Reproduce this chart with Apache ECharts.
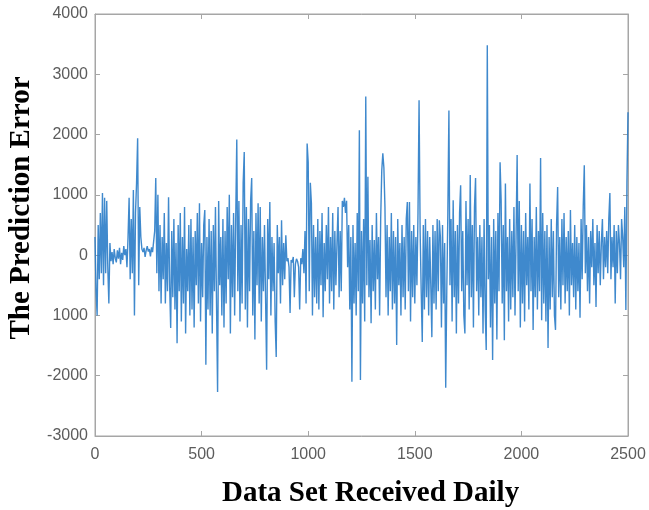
<!DOCTYPE html>
<html>
<head>
<meta charset="utf-8">
<script src="https://cdn.jsdelivr.net/npm/echarts@6/dist/echarts.min.js"></script>
<style>html,body{margin:0;padding:0;background:#fff}#c{width:649px;height:510px}</style>
</head>
<body>
<div id="c"></div>
<script>
// X positions: one sample every 5 days, 0..2500
const dayStep = 5;
// Prediction error values (one row = 50 days)
const errors = [
  300, -600, -1000, 500, -400, 700, -300, 1030, -500, 950,
  -300, 900, -200, -800, 200, -100, 50, -150, 100, -50,
  -120, 80, -60, 120, -150, 40, -80, 150, 0, 100,
  -200, 300, 950, -400, 600, -300, 1080, -1000, 700, 1200,
  1940, -500, 800, 300, 100, 50, 120, -30, 80, 150,
  60, 100, -20, 130, 50, 80, 400, 1280, -300, 1000,
  -600, 500, -800, 300, -400, 700, -800, 200, -600, 960,
  -500, -1210, 400, -700, 600, -900, 200, -1460, 500, -600,
  700, -1100, 300, -800, 800, -1300, 100, -600, 500, -1000,
  600, -900, 300, -1200, 400, -500, 700, -800, 860, -1100,
  200, -700, 500, 750, -1820, 300, -900, 600, -1000, 400,
  -1300, 500, -600, 800, -800, -2270, 900, -500, 300, -1000,
  600, -1200, 400, -800, 800, -400, 1000, -1300, 500, -700,
  700, -1000, 600, 1920, -600, 900, -1100, 500, -800, 1200,
  1710, -900, 800, -1200, 600, -600, 900, 1280, -1000, 400,
  -1400, 700, -500, 860, -800, 800, -1100, 300, -600, 500,
  -700, -1900, 600, -400, 880, -1000, 300, -600, 200, -1100,
  -1690, 500, -300, 300, -800, 580, -500, 200, -400, 330,
  -100, -50, -200, -960, -80, -120, -30, -700, -150, -60,
  -100, -200, -900, -50, -150, 100, -300, 400, -800, 1850,
  1540, -600, 1200, 860, -1000, 500, -700, 300, -800, 600,
  -900, 400, -500, 700, -1030, 200, -600, 500, -400, 800,
  -800, 300, -600, 700, -900, 400, -500, 200, 800, -700,
  400, -600, 900, 800, 950, 700, 900, -200, 500, -900,
  300, -2100, 500, -800, 200, -1000, 700, -600, 2070, -2070,
  400, -800, 600, -1100, 2630, -500, 1300, -700, 250, -1130,
  500, -600, 250, -900, 700, -400, 300, -1000, 600, 1400,
  1690, 1450, 800, -700, 500, -1000, 300, -600, 700, -900,
  400, -800, 300, -1490, 600, -500, 200, -1000, 500, -700,
  300, -900, 600, 880, -600, 880, -1100, 400, -700, 500,
  -800, 300, -500, 700, 2570, 400, -600, -1440, 500, -900,
  600, -700, 400, -1000, 300, -500, -1360, 500, -800, 400,
  -900, 600, -600, 580, 300, -1200, 500, -800, 200, -2200,
  -600, 700, 2400, -500, 600, -1100, 910, -700, 400, -1300,
  500, -800, 700, 1160, -600, 400, -1000, -1300, 900, -500,
  600, -900, 1330, -700, 500, -1200, 800, 1280, -600, 300,
  -1000, 500, -700, 300, -1300, 600, -900, -1575, 3480, -400,
  500, -1200, 300, -1740, 600, -800, 400, -1400, 700, -600,
  1540, 900, -800, 500, -1410, 1190, -600, 300, -1100, 600,
  -900, 400, -700, 800, -1000, 300, 1660, -600, 900, -1200,
  500, -800, 400, -1100, 700, -500, 300, -900, 1190, -600,
  600, -1240, 300, -700, 800, -900, 400, -600, 1610, -1080,
  700, -800, 400, -1100, 500, -1540, 300, -900, 600, -700,
  400, -1000, -1240, 500, 1130, -700, 300, -900, 600, -500,
  700, -800, 300, -600, 400, -1000, 750, -500, 200, -700,
  500, -900, 300, -600, 200, -1040, 600, -400, 800, 1490,
  -300, 500, -600, 300, -800, 400, -200, 600, -500, 200,
  -860, 500, -300, 400, -500, 200, 600, -400, 300, -200,
  400, -300, 600, 1030, -400, 300, -200, 500, -800, 400,
  -300, 500, 200, -400, 600, 300, -200, 800, -910, 1200,
  2370
];
const xTicks = [0, 500, 1000, 1500, 2000, 2500];
const yTicks = [4000, 3000, 2000, 1000, 0, -1000, -2000, -3000];
const yTickLabels = {"4000":"4000","3000":"3000","2000":"2000","1000":"1000","0":"0","-1000":"1000","-2000":"-2000","-3000":"-3000"};
const xTitle = "Data Set Received Daily";
const yTitle = "The Prediction Error";

const seriesData = errors.map((v, i) => [i * dayStep, v]);

const chart = echarts.init(document.getElementById('c'), null, {renderer: 'canvas'});
const frame = '#a6a6a6';
const labelColor = '#5c5c5c';
const axisCommon = {
  axisLine: {show: true, onZero: false, lineStyle: {color: frame, width: 1}},
  axisTick: {show: true, inside: true, length: 5, lineStyle: {color: frame}},
  splitLine: {show: false}
};
chart.setOption({
  animation: false,
  backgroundColor: '#ffffff',
  grid: {left: 95, right: 21, top: 14, bottom: 74, show: true, borderColor: frame, borderWidth: 1, containLabel: false},
  xAxis: [
    Object.assign({
      type: 'value', min: xTicks[0], max: xTicks[xTicks.length - 1], interval: 500, position: 'bottom',
      axisLabel: {color: labelColor, fontFamily: 'Liberation Sans, Arial, sans-serif', fontSize: 16, margin: 11,
        formatter: v => xTicks.includes(v) ? String(v) : ''}
    }, axisCommon),
    Object.assign({
      type: 'value', min: xTicks[0], max: xTicks[xTicks.length - 1], interval: 500, position: 'top',
      axisLabel: {show: false}
    }, axisCommon)
  ],
  yAxis: [
    Object.assign({
      type: 'value', min: -3000, max: 4000, interval: 1000, position: 'left',
      axisLabel: {color: labelColor, fontFamily: 'Liberation Sans, Arial, sans-serif', fontSize: 16, margin: 7,
        formatter: v => yTickLabels[String(v)] !== undefined ? yTickLabels[String(v)] : ''}
    }, axisCommon),
    Object.assign({
      type: 'value', min: -3000, max: 4000, interval: 1000, position: 'right',
      axisLabel: {show: false}
    }, axisCommon)
  ],
  series: [{
    type: 'line',
    xAxisIndex: 0, yAxisIndex: 0,
    data: seriesData,
    showSymbol: false,
    symbol: 'none',
    lineStyle: {color: '#2a7cc8', width: 1.4, opacity: 0.9},
    emphasis: {disabled: true}
  }],
  graphic: [
    {type: 'text', x: 222, y: 494, style: {text: xTitle, font: 'bold 29px "Liberation Serif", "Times New Roman", serif', fill: '#000', verticalAlign: 'middle'}},
    {type: 'text', x: 22, y: 208, rotation: Math.PI / 2, style: {text: yTitle, font: 'bold 29px "Liberation Serif", "Times New Roman", serif', fill: '#000', align: 'center', verticalAlign: 'middle'}}
  ]
});
</script>
</body>
</html>
